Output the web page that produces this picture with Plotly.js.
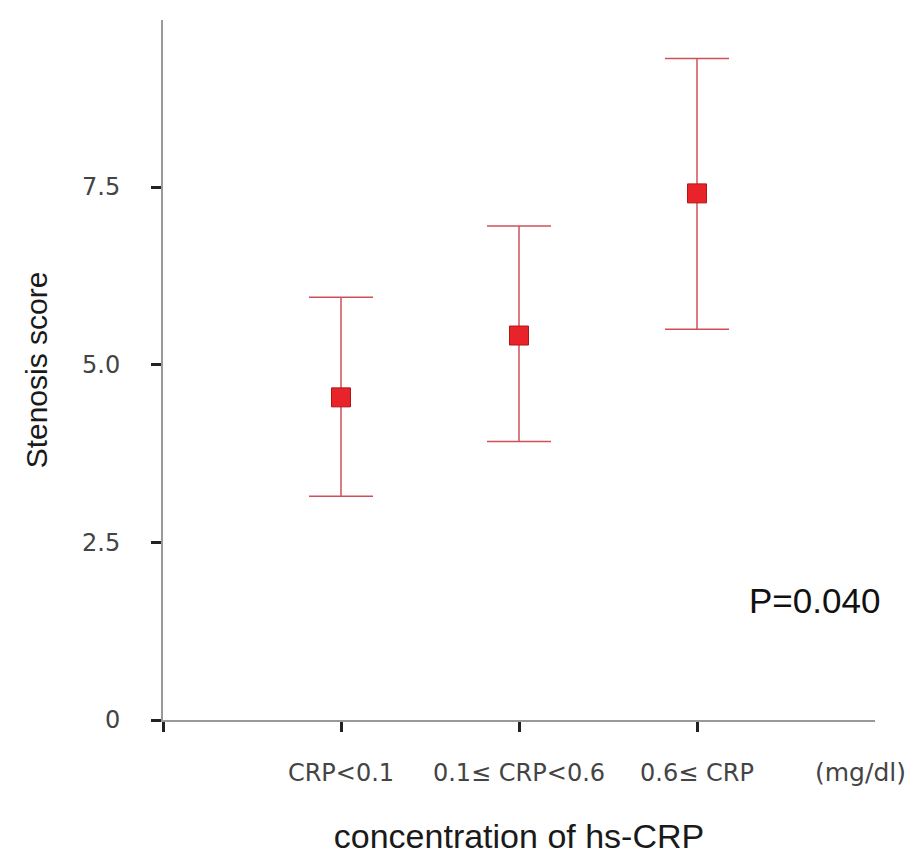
<!DOCTYPE html>
<html>
<head>
<meta charset="utf-8">
<script src="https://cdn.plot.ly/plotly-3.0.1.min.js"></script>
<style>html,body{margin:0;padding:0;background:#fff;}#chart{width:915px;height:857px;}</style>
</head>
<body>
<div id="chart"></div>
<script>
const categories = ["CRP<0.1", "0.1\u2264 CRP<0.6", "0.6\u2264 CRP"];
const catPositions = [1, 2, 3];
const meanScore = [4.54, 5.41, 7.41];
const upperScore = [5.95, 6.95, 9.31];
const lowerScore = [3.15, 3.92, 5.50];
const yTickVals = [0, 2.5, 5.0, 7.5];
const yTickText = ["0", "2.5", "5.0", "7.5"];

const errPlus = meanScore.map((m, i) => upperScore[i] - m);
const errMinus = meanScore.map((m, i) => m - lowerScore[i]);

const tickFontFamily = "DejaVu Sans, sans-serif";
const titleFontFamily = "Liberation Sans, Arial, sans-serif";

const trace = {
  x: catPositions,
  y: meanScore,
  type: "scatter",
  mode: "markers",
  marker: {symbol: "square", size: 19, color: "#e8242a", line: {color: "#b01818", width: 1}},
  error_y: {type: "data", symmetric: false, array: errPlus, arrayminus: errMinus,
            color: "#d0505a", thickness: 1.5, width: 32},
  hoverinfo: "none",
  showlegend: false
};

const layout = {
  width: 915, height: 857,
  margin: {l: 163, r: 40, t: 20, b: 137},
  paper_bgcolor: "#ffffff", plot_bgcolor: "#ffffff",
  font: {family: titleFontFamily, color: "#333333"},
  xaxis: {
    range: [0, 4], tickmode: "array", tickvals: [0].concat(catPositions),
    ticktext: [""].concat(categories),
    ticks: "outside", ticklen: 10, tickwidth: 3, tickcolor: "#222222",
    showline: true, linecolor: "#999999", linewidth: 2,
    showgrid: false, zeroline: false,
    ticklabelstandoff: 20,
    tickfont: {size: 24, color: "#444444", family: tickFontFamily},
    title: {text: "concentration of hs-CRP", font: {size: 34, color: "#1a1a1a", family: titleFontFamily}, standoff: 38}
  },
  yaxis: {
    range: [0, 9.85], tickmode: "array", tickvals: yTickVals, ticktext: yTickText,
    ticks: "outside", ticklen: 10, tickwidth: 3, tickcolor: "#222222",
    showline: true, linecolor: "#999999", linewidth: 2,
    showgrid: false, zeroline: false,
    ticklabelstandoff: 26,
    tickfont: {size: 24, color: "#444444", family: tickFontFamily},
    title: {text: "Stenosis score", font: {size: 30, color: "#1a1a1a", family: titleFontFamily}, standoff: 26}
  },
  annotations: [
    {x: 3.92, y: 0, xref: "x", yref: "y", yshift: -52, text: "(mg/dl)", showarrow: false,
     font: {size: 25, color: "#444444", family: tickFontFamily}},
    {x: 3.66, y: 1.68, xref: "x", yref: "y", text: "P=0.040", showarrow: false,
     font: {size: 35, color: "#111111", family: titleFontFamily}}
  ]
};

Plotly.newPlot("chart", [trace], layout, {staticPlot: true, displayModeBar: false});
</script>
</body>
</html>
